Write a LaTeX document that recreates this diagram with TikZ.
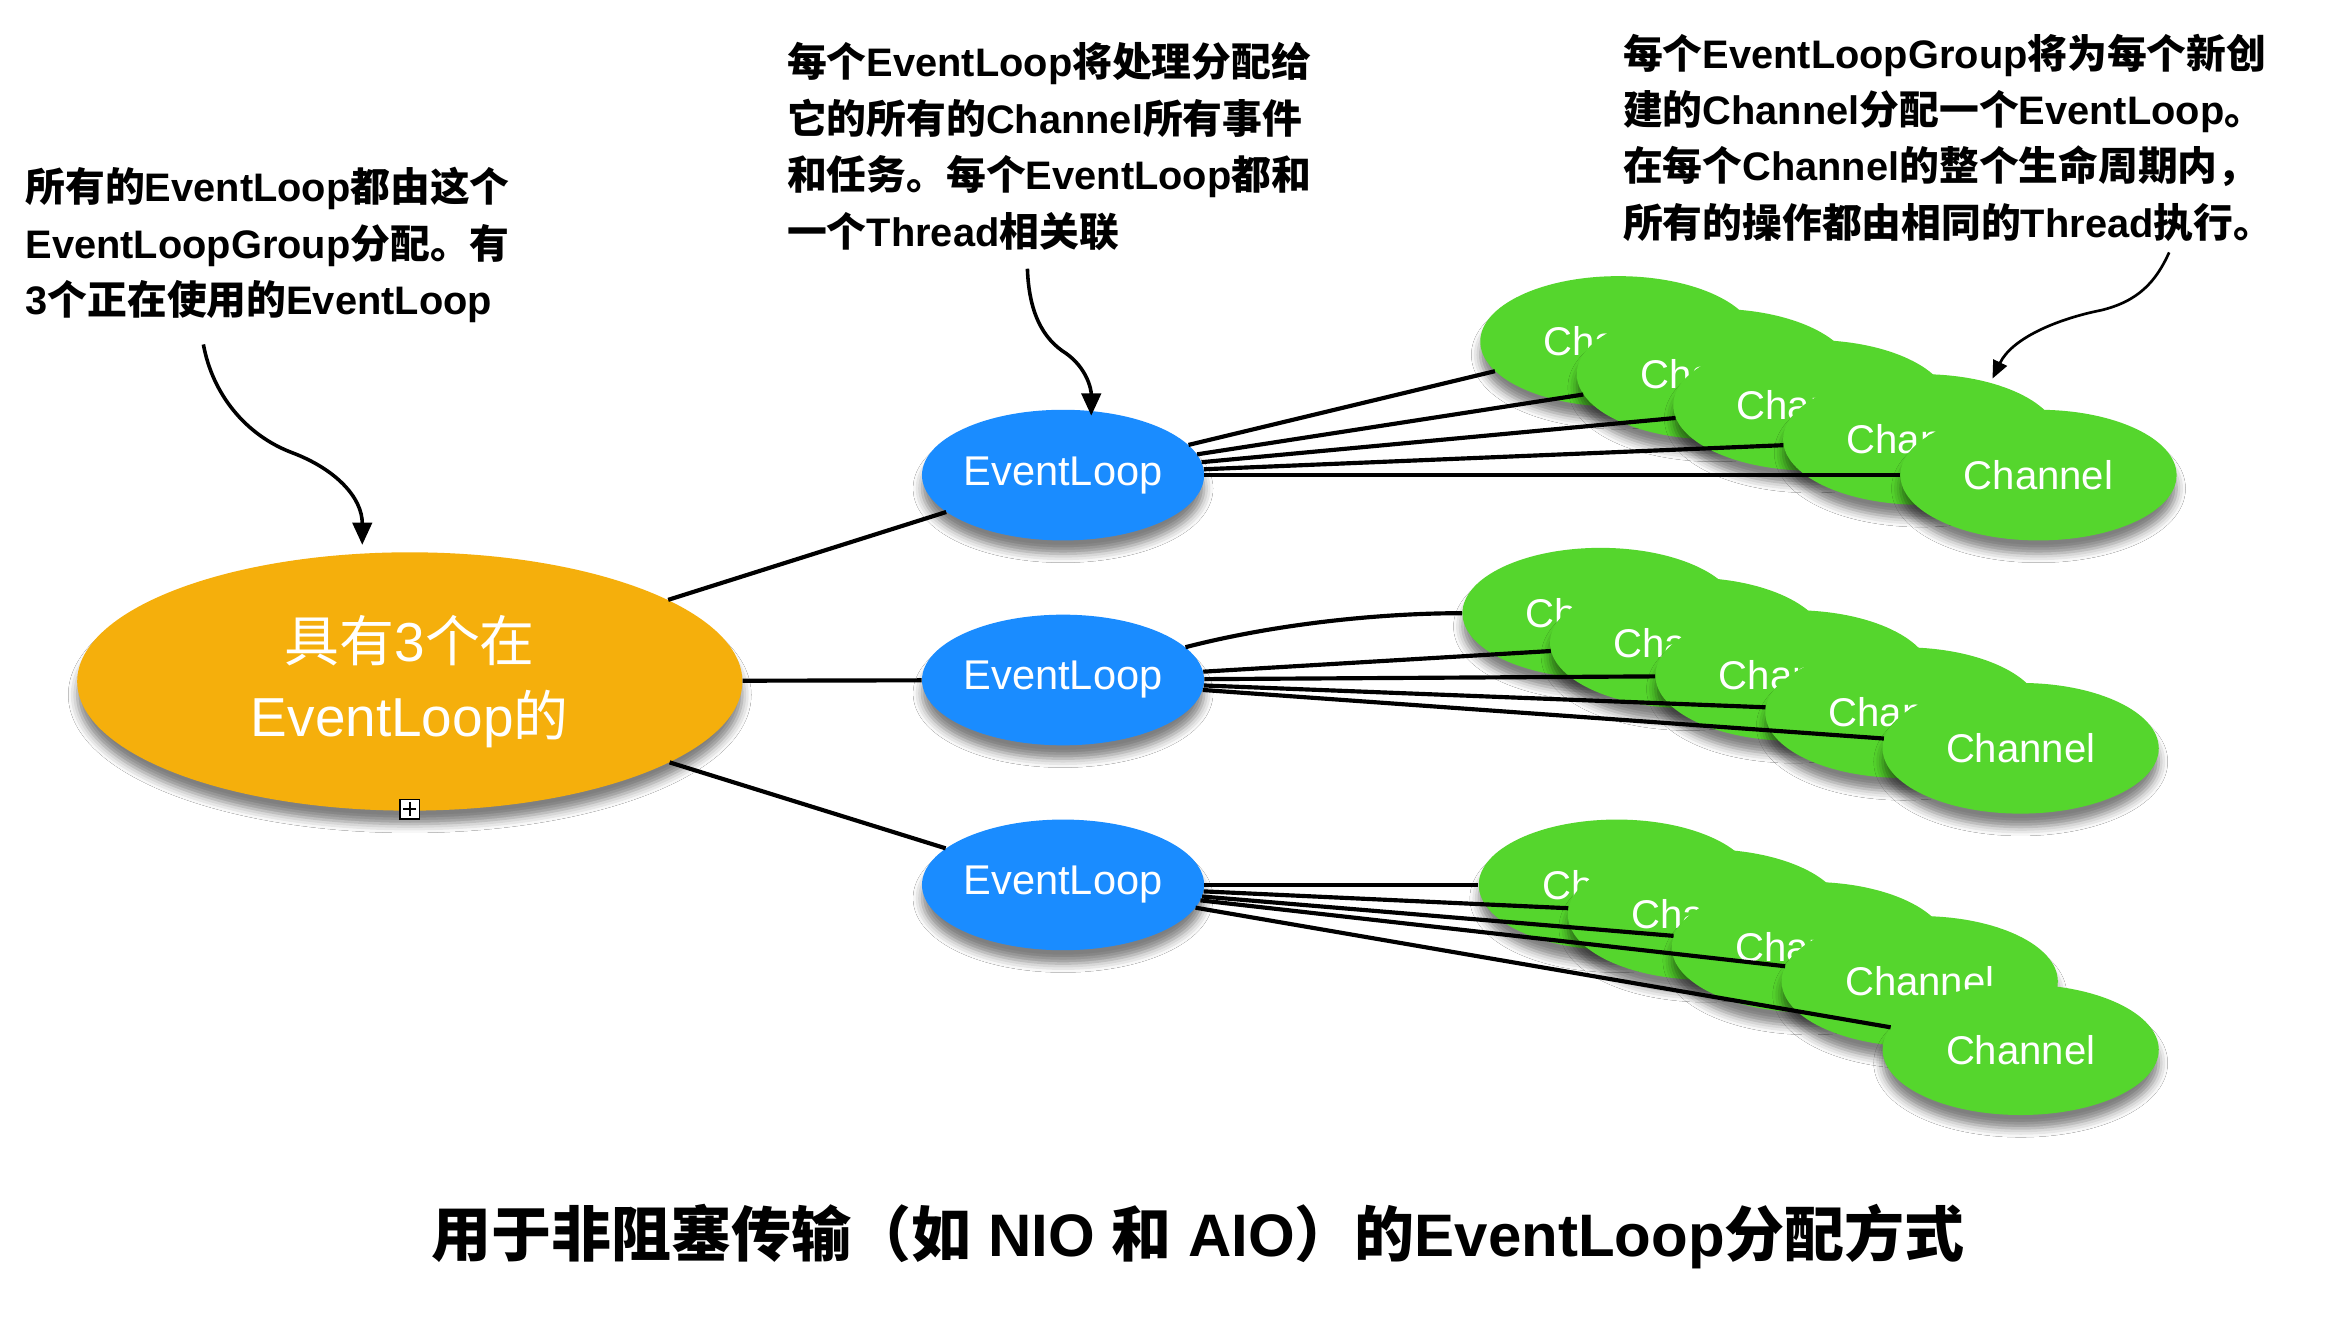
\documentclass[tikz,border=0pt]{standalone}
\usepackage{fontspec}
\setmainfont{Liberation Sans}
\newfontfamily\zhf{Noto Sans CJK SC}
\newcommand\zh[1]{{\zhf #1}}
\usetikzlibrary{shapes.geometric,arrows.meta,shadows.blur}
\definecolor{elorange}{HTML}{F5AF0C}
\definecolor{elblue}{HTML}{1A8CFF}
\definecolor{chgreen}{HTML}{55D62D}
\begin{document}
\begin{tikzpicture}[x=1pt,y=-1pt,
  sh/.style={blur shadow={shadow xshift=0pt,shadow yshift=-9pt,shadow blur radius=6pt,shadow opacity=50}},
  groupnode/.style={ellipse,fill=elorange,minimum width=448pt,minimum height=174pt,inner sep=0pt,text=white,align=center,font=\fontsize{37}{51}\selectfont,sh},
  loopnode/.style={ellipse,fill=elblue,minimum width=190pt,minimum height=88pt,inner sep=0pt,text=white,font=\fontsize{28}{32}\selectfont,sh},
  chnode/.style={ellipse,fill=chgreen,minimum width=186pt,minimum height=88pt,inner sep=0pt,text=white,font=\fontsize{27}{32}\selectfont,sh},
  link/.style={line width=2.8pt},
  note/.style={anchor=north west,align=left,inner sep=0pt,font=\bfseries\fontsize{26.8}{38}\selectfont},
  callout/.style={line width=2.4pt,-{Triangle[length=15pt,width=13pt]}},
  thincallout/.style={line width=1.8pt,-{Triangle[length=12pt,width=10pt]}}
]
\useasboundingbox (0,0) rectangle (1568,888);
\fill[white] (0,0) rectangle (1568,888);

% group node
\node[groupnode] (grp) at (276,459) {\zh{具有}3\zh{个在}\\EventLoop\zh{的}};
\node[draw,fill=white,line width=1.2pt,minimum size=13pt,inner sep=0pt,
  path picture={\draw[line width=1pt] ([yshift=4.5pt]path picture bounding box.center) -- ([yshift=-4.5pt]path picture bounding box.center);
                \draw[line width=1pt] ([xshift=4.5pt]path picture bounding box.center) -- ([xshift=-4.5pt]path picture bounding box.center);}]
  (plus) at (276,545) {};

% event loops
\node[loopnode] (el1) at (716,320) {EventLoop};
\node[loopnode] (el2) at (716,458) {EventLoop};
\node[loopnode] (el3) at (716,596) {EventLoop};

% channels, top group
\node[chnode] (c11) at (1090,230) {Channel};
\node[chnode] (c12) at (1155,252) {Channel};
\node[chnode] (c13) at (1220,273) {Channel};
\node[chnode] (c14) at (1294,296) {Channel};
\node[chnode] (c15) at (1373,320) {Channel};
% middle group
\node[chnode] (c21) at (1078,413) {Channel};
\node[chnode] (c22) at (1137,433) {Channel};
\node[chnode] (c23) at (1208,455) {Channel};
\node[chnode] (c24) at (1282,480) {Channel};
\node[chnode] (c25) at (1361,504) {Channel};
% bottom group
\node[chnode] (c31) at (1089,596) {Channel};
\node[chnode] (c32) at (1149,616) {Channel};
\node[chnode] (c33) at (1219,638) {Channel};
\node[chnode] (c34) at (1293,661) {Channel};
\node[chnode] (c35) at (1361,707) {Channel};

% links
\draw[link] (grp) -- (el1);
\draw[link] (grp) -- (el2);
\draw[link] (grp) -- (el3);
\foreach \i in {1,...,5} {\draw[link] (el1) -- (c1\i);}
\draw[link] (el2.15) .. controls (860,420) and (930,413) .. (c21.west);
\foreach \i in {2,...,5} {\draw[link] (el2) -- (c2\i);}
\foreach \i in {1,...,5} {\draw[link] (el3) -- (c3\i);}

% notes
\node[note] (n1) at (17,112.5) {\zh{所有的}EventLoop\zh{都由这个}\\EventLoopGroup\zh{分配。有}\\3\zh{个正在使用的}EventLoop};
\node[note] (n2) at (530,28.5) {\zh{每个}EventLoop\zh{将处理分配给}\\\zh{它的所有的}Channel\zh{所有事件}\\\zh{和任务。每个}EventLoop\zh{都和}\\\zh{一个}Thread\zh{相关联}};
\node[note] (n3) at (1093,22.5) {\zh{每个}EventLoopGroup\zh{将为每个新创}\\\zh{建的}Channel\zh{分配一个}EventLoop\zh{。}\\\zh{在每个}Channel\zh{的整个生命周期内，}\\\zh{所有的操作都由相同的}Thread\zh{执行。}};

% callouts
\coordinate (a1s) at (137,232);
\coordinate (a1m) at (197,305);
\coordinate (a1e) at (244,367);
\draw[callout] (a1s) .. controls (143,265) and (165,293) .. (a1m) .. controls (226,316) and (244,335) .. (a1e);
\coordinate (a2s) at (692,181);
\coordinate (a2m) at (718,238);
\coordinate (a2e) at (735,280);
\draw[callout] (a2s) .. controls (693,210) and (702,228) .. (a2m) .. controls (732,248) and (735,262) .. (a2e);
\coordinate (a3s) at (1461,170);
\coordinate (a3m) at (1415,209);
\coordinate (a3e) at (1342,255);
\draw[thincallout] (a3s) .. controls (1452,190) and (1440,203) .. (a3m) .. controls (1385,215) and (1355,228) .. (a3e);

% title
\node[font=\bfseries\fontsize{40.4}{48}\selectfont,inner sep=0pt] (title) at (807,833) {\zh{用于非阻塞传输（如} NIO \zh{和} AIO\zh{）的}EventLoop\zh{分配方式}};
\end{tikzpicture}
\end{document}
